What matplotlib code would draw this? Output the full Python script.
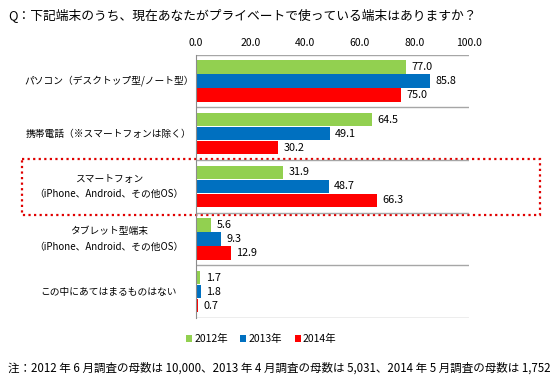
import matplotlib
matplotlib.use('Agg')
import matplotlib.pyplot as plt
import matplotlib.transforms as mtransforms
from matplotlib.patches import Rectangle
import numpy as np

plt.rcParams['font.family'] = ['Noto Sans CJK JP', 'DejaVu Sans']

# データ
categories = ['パソコン（デスクトップ型/ノート型）',
              '携帯電話（※スマートフォンは除く）',
              'スマートフォン\n（iPhone、Android、その他OS）',
              'タブレット型端末\n（iPhone、Android、その他OS）',
              'この中にあてはまるものはない']
years = ['2012年', '2013年', '2014年']
v2012 = [77.0, 64.5, 31.9, 5.6, 1.7]
v2013 = [85.8, 49.1, 48.7, 9.3, 1.8]
v2014 = [75.0, 30.2, 66.3, 12.9, 0.7]
xticks = [0, 20, 40, 60, 80, 100]

colors = ['#92D050', '#0070C0', '#FF0000']
title = 'Q：下記端末のうち、現在あなたがプライベートで使っている端末はありますか？'
note = '注：2012 年 6 月調査の母数は 10,000、2013 年 4 月調査の母数は 5,031、2014 年 5 月調査の母数は 1,752'

fig = plt.figure(figsize=(5.58, 3.83), dpi=100)
ax = fig.add_axes([0.351, 0.170, 0.489, 0.687])

y = np.arange(len(categories))
h = 0.255
off = 0.265
for i, (vals, c, lab) in enumerate(zip([v2012, v2013, v2014], colors, years)):
    bars = ax.barh(y + (i - 1) * off, vals, height=h, color=c, label=lab)
    for b, v in zip(bars, vals):
        ax.text(v + 2, b.get_y() + b.get_height() / 2, f'{v:.1f}',
                va='center', ha='left', fontsize=7.8)

ax.set_ylim(len(categories) - 0.5, -0.5)
ax.set_xlim(0, 100)
ax.set_xticks(xticks)
ax.set_xticklabels([f'{t:.1f}' for t in xticks], fontsize=7.5)
ax.xaxis.tick_top()
ax.tick_params(axis='x', length=0, pad=5)
ax.set_yticks([])
for s in ['top', 'right', 'bottom']:
    ax.spines[s].set_visible(False)
ax.spines['left'].set_color('#8C8C8C')

# 区切り線
for k in range(len(categories) + 1):
    ax.axhline(k - 0.5, color='#A6A6A6', linewidth=1)

# カテゴリ名
trans = mtransforms.blended_transform_factory(fig.transFigure, ax.transData)
for k, cat in enumerate(categories):
    ax.text(0.195, k, cat, transform=trans, ha='center', va='center',
            fontsize=7, linespacing=1.7)

# 点線の枠（スマートフォン）
rect = Rectangle((0.040, 1.483), 0.928, 1.07, transform=trans, fill=False,
                 edgecolor='#E00000', linestyle=(0, (1, 1.5)), linewidth=1.6,
                 clip_on=False)
ax.add_patch(rect)

fig.text(0.014, 0.962, title, fontsize=9.2, ha='left', va='center')
fig.text(0.014, 0.040, note, fontsize=8.3, ha='left', va='center')

ax.legend(loc='center', ncol=3, frameon=False, fontsize=7.5,
          handlelength=0.6, handleheight=0.6, handletextpad=0.2,
          columnspacing=1.2, bbox_to_anchor=(0.468, 0.115),
          bbox_transform=fig.transFigure)

fig.savefig('out.png', dpi=100)
